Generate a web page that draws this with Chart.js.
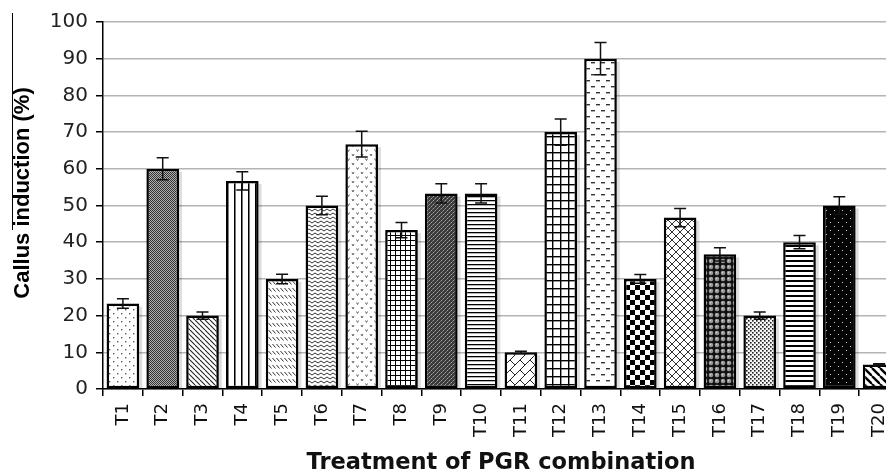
<!DOCTYPE html>
<html><head><meta charset="utf-8">
<script src="https://cdn.jsdelivr.net/npm/chart.js@4"></script>
<style>
html,body{margin:0;padding:0;background:#fff;overflow:hidden}
#wrap{width:886px;height:470px;overflow:hidden;position:relative}
canvas{display:block}
</style></head>
<body><div id="wrap"><canvas id="c" width="910" height="480" style="width:910px;height:480px"></canvas></div>
<script>
const categories = ['T1','T2','T3','T4','T5','T6','T7','T8','T9','T10','T11','T12','T13','T14','T15','T16','T17','T18','T19','T20'];
const callusInduction = [23.3,60,20,56.7,30,50,66.7,43.3,53.3,53.3,10,70,90,30,46.7,36.7,20,40,50,6.7];
const standardError = [1.3,3,1,2.5,1.3,2.5,3.5,2.1,2.6,2.6,0.3,3.6,4.4,1.2,2.5,1.8,1,1.8,2.4,0.2];
const yMin = 0, yMax = 100, yStep = 10;
const xTitle = 'Treatment of PGR combination';
const yTitle = 'Callus induction (%)';

function pat(w,h,bg,fn){
  const c=document.createElement('canvas');c.width=w;c.height=h;
  const x=c.getContext('2d');x.fillStyle=bg;x.fillRect(0,0,w,h);
  x.strokeStyle='#000';x.fillStyle='#000';x.lineWidth=1;
  fn(x,w,h);
  return x.createPattern(c,'repeat');
}
function line(x,a,b,c,d){x.beginPath();x.moveTo(a,b);x.lineTo(c,d);x.stroke();}
const patterns=[
  pat(8,8,'#fff',x=>{x.fillStyle='#555';x.fillRect(1,1,1.4,1.4);x.fillRect(5,5,1.4,1.4);}),
  pat(2,2,'#b0b0b0',x=>{x.fillStyle='#333';x.fillRect(0,0,1,1);x.fillRect(1,1,1,1);}),
  pat(5,5,'#fff',x=>{x.lineWidth=1.1;x.strokeStyle='#222';for(const o of [-5,0,5]) line(x,o,0,o+5,5);}),
  pat(7,1,'#fff',x=>{x.fillRect(3,0,1,1);x.fillStyle='#777';x.fillRect(4,0,1,1);}),
  pat(4,7,'#fff',x=>{x.strokeStyle='#333';line(x,0.5,1,3.5,4.5);}),
  pat(6,4,'#fff',x=>{x.strokeStyle='#333';x.beginPath();x.moveTo(0,3);x.lineTo(3,1);x.lineTo(6,3);x.stroke();}),
  pat(9,9,'#fff',x=>{x.strokeStyle='#666';x.beginPath();x.moveTo(1,1);x.lineTo(2,3);x.lineTo(3,1);x.stroke();x.beginPath();x.moveTo(5.5,5.5);x.lineTo(6.5,7.5);x.lineTo(7.5,5.5);x.stroke();}),
  pat(5,5,'#fff',x=>{x.fillRect(0,0,5,1);x.fillRect(0,0,1,5);}),
  pat(4,4,'#3a3a3a',x=>{x.fillStyle='#a8a8a8';x.fillRect(1,0,1,1);x.fillRect(3,2,1,1);x.fillStyle='#777';x.fillRect(0,1,1,1);x.fillRect(2,3,1,1);}),
  pat(1,4,'#fff',x=>{x.fillRect(0,0,1,1.3);}),
  pat(10,10,'#fff',x=>{x.strokeStyle='#222';for(const o of [0,10,20]) line(x,o-10,10,o,0);line(x,0,0,5,5);}),
  pat(8,8,'#fff',x=>{x.fillRect(0,0,8,1.4);x.fillRect(0,0,1.4,8);}),
  pat(10,12,'#fff',x=>{x.fillStyle='#333';x.fillRect(1,2,4,1.4);x.fillRect(6,8,4,1.4);}),
  pat(10,10,'#fff',x=>{x.fillRect(0,0,5,5);x.fillRect(5,5,5,5);}),
  pat(8,8,'#fff',x=>{x.strokeStyle='#333';for(const o of [-8,0,8]){line(x,o,0,o+8,8);line(x,o,8,o+8,0);}}),
  pat(6,6,'#111',x=>{x.fillStyle='#9a9a9a';x.beginPath();x.arc(3,3,2.3,0,Math.PI*2);x.fill();x.fillStyle='#ddd';x.fillRect(2,2,1,1);}),
  pat(4,4,'#f4f4f4',x=>{x.fillStyle='#222';x.fillRect(0,0,1.6,1.6);x.fillRect(2,2,1.6,1.6);}),
  pat(1,5,'#fff',x=>{x.fillRect(0,0,1,2);}),
  pat(8,8,'#050505',x=>{x.fillStyle='#cfcfcf';x.fillRect(2,2,1,1);x.fillRect(6,6,1,1);}),
  pat(8,8,'#fff',x=>{x.lineWidth=2.4;for(const o of [-8,0,8]) line(x,o,0,o+8,8);})
];

const decorPlugin={
  id:'decor',
  beforeDatasetsDraw(chart){
    const ctx=chart.ctx;const meta=chart.getDatasetMeta(0);
    ctx.save();ctx.fillStyle='rgba(0,0,0,0.13)';
    meta.data.forEach(b=>{const w=b.width;ctx.fillRect(b.x-w/2+3,b.y+3,w,b.base-b.y-3);});
    ctx.restore();
  },
  afterDatasetsDraw(chart){
    const ctx=chart.ctx;const meta=chart.getDatasetMeta(0);const ys=chart.scales.y;
    ctx.save();ctx.strokeStyle='#111';ctx.lineWidth=1.5;
    meta.data.forEach((b,i)=>{
      const v=callusInduction[i],e=standardError[i];
      const t=ys.getPixelForValue(v+e),bt=ys.getPixelForValue(v-e);
      ctx.beginPath();ctx.moveTo(b.x,t);ctx.lineTo(b.x,bt);
      ctx.moveTo(b.x-6,t);ctx.lineTo(b.x+6,t);
      ctx.moveTo(b.x-6,bt);ctx.lineTo(b.x+6,bt);ctx.stroke();
    });
    ctx.restore();
  },
  afterDraw(chart){
    const ctx=chart.ctx;
    ctx.save();
    ctx.strokeStyle='#000';ctx.lineWidth=1;
    ctx.beginPath();ctx.moveTo(12.5,13);ctx.lineTo(12.5,230);ctx.stroke();
    ctx.translate(23,193);ctx.rotate(-Math.PI/2);
    ctx.fillStyle='#000';ctx.textAlign='center';ctx.textBaseline='middle';
    ctx.font='bold 22px "Liberation Sans Narrow", "Liberation Sans", sans-serif';
    ctx.fillText(yTitle,0,0);
    ctx.restore();
  }
};

new Chart(document.getElementById('c'),{
  type:'bar',
  data:{labels:categories,datasets:[{
    data:callusInduction,
    backgroundColor:patterns,
    borderColor:'#000',borderWidth:2.5,borderSkipped:false,
    barPercentage:0.82,categoryPercentage:1
  }]},
  options:{
    responsive:false,animation:false,
    layout:{padding:{top:22,right:11,bottom:6,left:0}},
    plugins:{legend:{display:false},tooltip:{enabled:false}},
    scales:{
      x:{
        afterFit:s=>{s.height=85;},
        grid:{display:true,drawOnChartArea:false,color:'#000',tickColor:'#000',lineWidth:1.5,tickLength:7,offset:true},
        border:{display:true,color:'#000',width:1.5},
        ticks:{minRotation:90,maxRotation:90,autoSkip:false,padding:7,color:'#111',font:{family:'"DejaVu Sans", Verdana, sans-serif',size:18}},
        title:{display:true,text:xTitle,color:'#111',padding:0,font:{family:'"DejaVu Sans", Verdana, sans-serif',size:22.5,weight:'bold',lineHeight:0.95}}
      },
      y:{
        min:yMin,max:yMax,
        afterFit:s=>{s.width=103;},
        grid:{color:'#b4b4b4',lineWidth:1.5,tickColor:'#000',tickLength:7},
        border:{display:true,color:'#000',width:1.5},
        ticks:{stepSize:yStep,padding:8,color:'#222',font:{family:'"DejaVu Sans", Verdana, sans-serif',size:20}}
      }
    }
  },
  plugins:[decorPlugin]
});
</script>
</body></html>
